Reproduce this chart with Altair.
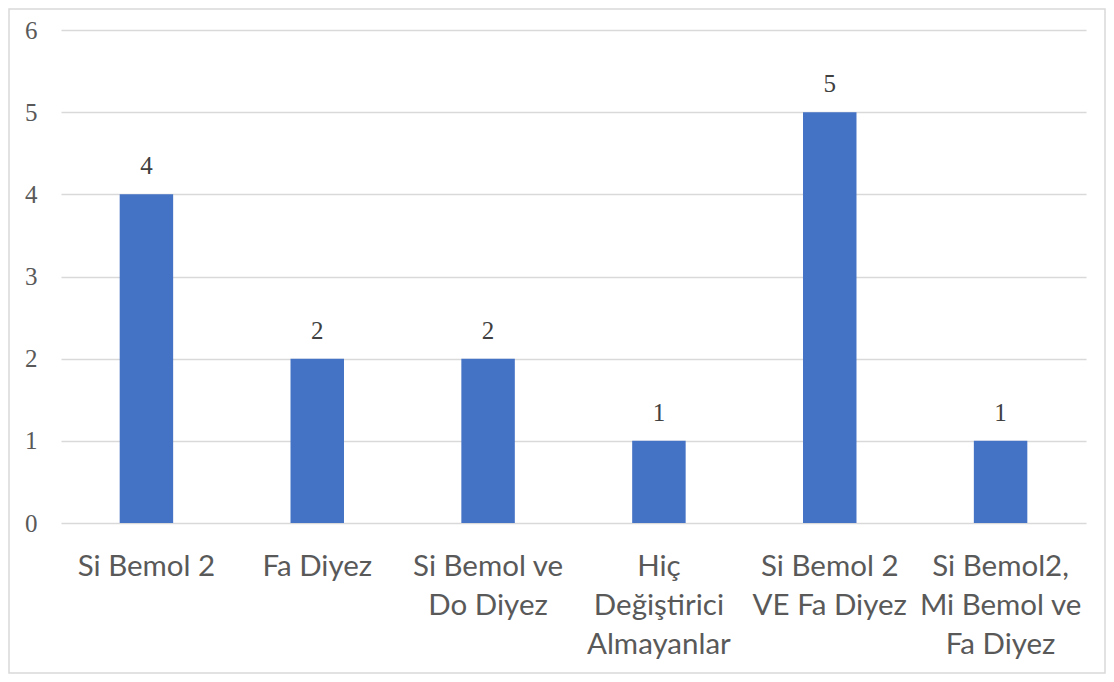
import altair as alt
import pandas as pd

categories = ["Si Bemol 2", "Fa Diyez", "Si Bemol ve\nDo Diyez",
              "Hiç\nDeğiştirici\nAlmayanlar", "Si Bemol 2\nVE Fa Diyez",
              "Si Bemol2,\nMi Bemol ve\nFa Diyez"]
values = [4, 2, 2, 1, 5, 1]
y_ticks = [0, 1, 2, 3, 4, 5, 6]

df = pd.DataFrame({"cat": categories, "val": values})

W, H = 1025, 493
PL, PT, PR, PB = 53, 22, 20, 151

x_enc = alt.X("cat:N", sort=categories, title=None,
              scale=alt.Scale(paddingInner=0.687, paddingOuter=0.3435),
              axis=alt.Axis(labelAngle=0, labelFont="Lato", labelFontSize=29.5,
                            labelColor="#595959", labelPadding=29,
                            labelBaseline="top", labelLineHeight=39,
                            labelExpr="split(datum.label, '\\n')",
                            domain=False, ticks=False, grid=False,
                            labelLimit=300))
y_enc = alt.Y("val:Q", title=None,
              scale=alt.Scale(domain=[0, 6], nice=False, zero=True),
              axis=alt.Axis(values=y_ticks, format="d",
                            labelFont="Liberation Serif",
                            labelFontSize=25, labelColor="#595959",
                            labelPadding=24, domain=False, ticks=False,
                            grid=True, gridColor="#d9d9d9", gridWidth=1.5))

bars = alt.Chart(df).mark_bar(color="#4472C4").encode(x=x_enc, y=y_enc)

labels = alt.Chart(df).mark_text(font="Liberation Serif", fontSize=25,
                                 color="#404040", baseline="alphabetic",
                                 dy=-20).encode(
    x=alt.X("cat:N", sort=categories), y="val:Q", text="val:Q")

border = alt.Chart(df.head(1)).mark_rect(fill=None, stroke="#d9d9d9",
                                         strokeWidth=1.5).encode(
    x=alt.value(-PL + 1), x2=alt.value(W + PR - 1),
    y=alt.value(-PT + 1), y2=alt.value(H + PB - 1))

chart = alt.layer(bars, labels, border).properties(
    width=W, height=H, autosize=alt.AutoSizeParams(type="none"),
    padding={"left": PL, "top": PT, "right": PR, "bottom": PB}
).configure_view(stroke=None)

chart.save("out.html", embed_options={"renderer": "svg", "actions": False})
